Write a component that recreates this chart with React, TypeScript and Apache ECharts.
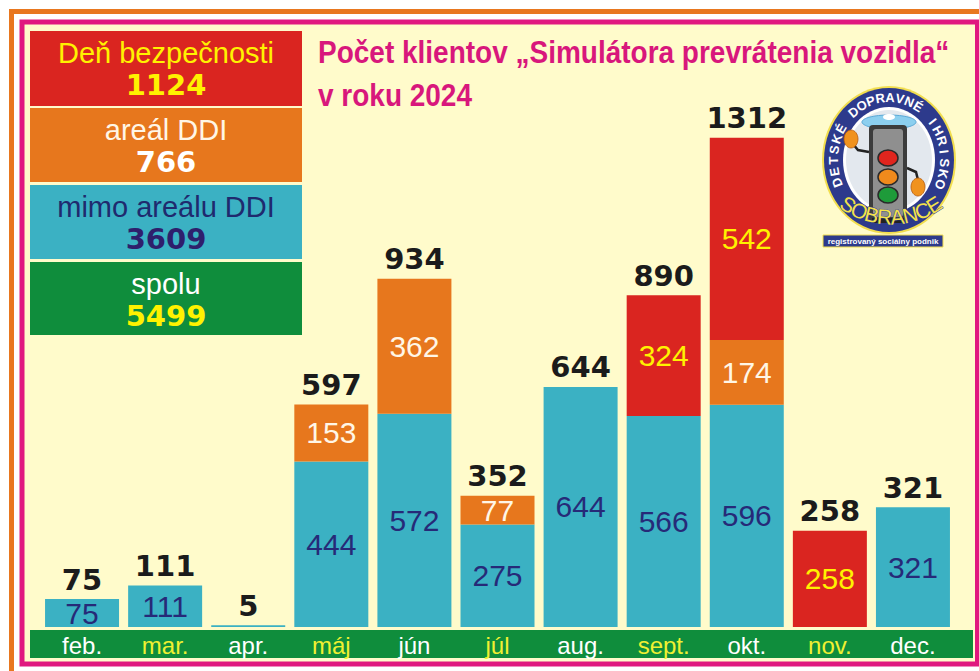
import React, { useEffect, useRef } from "react";
import * as echarts from "echarts";

// ---- data ----
const months = ["feb.", "mar.", "apr.", "máj", "jún", "júl", "aug.", "sept.", "okt.", "nov.", "dec."];
const mimoArealu = [75, 111, 5, 444, 572, 275, 644, 566, 596, 0, 321];
const arealDDI = [0, 0, 0, 153, 362, 77, 0, 0, 174, 0, 0];
const denBezpecnosti = [0, 0, 0, 0, 0, 0, 0, 324, 542, 258, 0];
const legendNames = ["Deň bezpečnosti", "areál DDI", "mimo areálu DDI", "spolu"];
const titleLines = ["Počet klientov „Simulátora prevrátenia vozidla“", "v roku 2024"];
const logoTopText = "DETSKÉ DOPRAVNÉ IHRISKO";
const logoBottomText = "SOBRANCE";
const logoBanner = "registrovaný sociálny podnik";

const sum = (a: number[]) => a.reduce((s, v) => s + v, 0);
const totals = months.map((_, i) => mimoArealu[i] + arealDDI[i] + denBezpecnosti[i]);
const legendValues = [sum(denBezpecnosti), sum(arealDDI), sum(mimoArealu), sum(totals)];

const C_RED = "#DA2520";
const C_ORANGE = "#E7771D";
const C_CYAN = "#3BB1C3";
const C_GREEN = "#0F8D3C";
const C_NAVY = "#262A78";
const C_YELLOW = "#FFF200";
const C_MAGENTA = "#D8177C";
const SANS = "'Liberation Sans', Arial, sans-serif";
const BOLD = "'DejaVu Sans', 'Liberation Sans', sans-serif";

const nz = (a: number[]) => a.map((v) => (v ? v : null));
const labelFmt = (p: any) => (p.value && p.value >= 50 ? String(p.value) : "");

function buildLegend(): any[] {
  const boxes = [
    { y: 31, h: 75, fill: C_RED, c1: C_YELLOW, c2: C_YELLOW },
    { y: 108, h: 74, fill: C_ORANGE, c1: "#FFF6E6", c2: "#FFFFFF" },
    { y: 185, h: 74, fill: C_CYAN, c1: "#1F2A6E", c2: "#2E1F6C" },
    { y: 262, h: 73, fill: C_GREEN, c1: "#FFFFFF", c2: C_YELLOW },
  ];
  const els: any[] = [];
  boxes.forEach((b, i) => {
    els.push({ type: "rect", z: 20, shape: { x: 30, y: b.y, width: 272, height: b.h }, style: { fill: b.fill } });
    els.push({
      type: "text", z: 21, x: 166, y: b.y + 22,
      style: { text: legendNames[i], fill: b.c1, font: `29px ${SANS}`, align: "center", verticalAlign: "middle" },
    });
    els.push({
      type: "text", z: 21, x: 166, y: b.y + 54,
      style: { text: String(legendValues[i]), fill: b.c2, font: `bold 29px ${BOLD}`, align: "center", verticalAlign: "middle" },
    });
  });
  return els;
}

function buildLogo(): any[] {
  const cx = 889, cy = 160, a = 65, b = 72;
  const els: any[] = [];
  els.push({ type: "ellipse", z: 20, shape: { cx, cy, rx: a + 2, ry: b + 2 }, style: { fill: "#F2DE4E" } });
  els.push({ type: "ellipse", z: 20, shape: { cx, cy, rx: a, ry: b }, style: { fill: "#2D3A8C" } });
  els.push({ type: "ellipse", z: 20, shape: { cx, cy, rx: a - 19, ry: b - 19 }, style: { fill: "#FFFFFF" } });
  els.push({ type: "ellipse", z: 20, shape: { cx, cy, rx: a - 22, ry: b - 22 }, style: { fill: "#E3E8EE" } });
  // cap
  els.push({ type: "ellipse", z: 21, shape: { cx: 889, cy: 122, rx: 27, ry: 7 }, style: { fill: "#8CCFEF", stroke: "#5AA8D6", lineWidth: 1 } });
  els.push({ type: "ellipse", z: 21, shape: { cx: 889, cy: 117, rx: 6, ry: 3 }, style: { fill: "#FFFFFF" } });
  // arms
  els.push({ type: "polyline", z: 21, shape: { points: [[869, 152], [858, 150], [853, 144]] }, style: { stroke: "#222", lineWidth: 2.5, fill: "none" } });
  els.push({ type: "polyline", z: 21, shape: { points: [[907, 168], [916, 172], [918, 180]] }, style: { stroke: "#222", lineWidth: 2.5, fill: "none" } });
  // body
  els.push({ type: "rect", z: 21, shape: { x: 869, y: 125, width: 38, height: 96, r: 4 }, style: { fill: "#3C3C3C" } });
  els.push({ type: "rect", z: 21, shape: { x: 873, y: 129, width: 30, height: 88, r: 3 }, style: { fill: "#8F8F8F" } });
  els.push({ type: "rect", z: 21, shape: { x: 872, y: 218, width: 32, height: 5 }, style: { fill: "#222" } });
  // hands
  els.push({ type: "ellipse", z: 22, shape: { cx: 851, cy: 139, rx: 7, ry: 9 }, style: { fill: "#F0921E", stroke: "#B45A10", lineWidth: 0.8 } });
  els.push({ type: "ellipse", z: 22, shape: { cx: 918, cy: 187, rx: 7, ry: 9 }, style: { fill: "#F0921E", stroke: "#B45A10", lineWidth: 0.8 } });
  // lights
  const lights = [["#E0251E", 158], ["#F08A1C", 177], ["#1E9B3A", 195]];
  lights.forEach(([c, y]) => {
    els.push({ type: "ellipse", z: 22, shape: { cx: 888, cy: y as number, rx: 10, ry: 8 }, style: { fill: c as string, stroke: "#2A2A2A", lineWidth: 1.5 } });
  });
  // top curved text
  const chars = logoTopText.split("");
  const start = (-111 * Math.PI) / 180, end = (113 * Math.PI) / 180;
  const at = a - 9.5, bt = b - 9.5;
  chars.forEach((ch, i) => {
    const t = start + ((end - start) * i) / (chars.length - 1);
    els.push({
      type: "text", z: 23, x: cx + at * Math.sin(t), y: cy - bt * Math.cos(t), rotation: -t,
      style: { text: ch, fill: "#FFFFFF", font: `bold 13px ${SANS}`, align: "center", verticalAlign: "middle" },
    });
  });
  // bottom curved text
  const bc = logoBottomText.split("");
  const bcx = 891, bcy = 136, R = 81;
  const s2 = (212 * Math.PI) / 180, e2 = (148 * Math.PI) / 180;
  bc.forEach((ch, i) => {
    const t = s2 + ((e2 - s2) * i) / (bc.length - 1);
    els.push({
      type: "text", z: 23, x: bcx + R * Math.sin(t), y: bcy - R * Math.cos(t), rotation: Math.PI - t,
      style: { text: ch, fill: "#F3E24A", stroke: "#2D3A8C", lineWidth: 0.8, font: `21px ${SANS}`, align: "center", verticalAlign: "middle" },
    });
  });
  // banner
  els.push({ type: "rect", z: 24, shape: { x: 823, y: 235, width: 120, height: 12 }, style: { fill: "#2D3A8C", stroke: "#F2DE4E", lineWidth: 1 } });
  els.push({
    type: "text", z: 25, x: 883, y: 241.5,
    style: { text: logoBanner, fill: "#FFFFFF", font: `bold 8px ${SANS}`, align: "center", verticalAlign: "middle" },
  });
  return els;
}

function buildOption(): any {
  const graphic: any[] = [
    { type: "rect", z: -10, shape: { x: 11.5, y: 11.5, width: 1000, height: 700 }, style: { fill: "#FFFFFF", stroke: "#E8771F", lineWidth: 5 } },
    { type: "rect", z: -9, shape: { x: 22, y: 22, width: 955.5, height: 642 }, style: { fill: "#FFFBCB", stroke: "#E0187F", lineWidth: 5 } },
    { type: "rect", z: -8, shape: { x: 30, y: 630, width: 943, height: 28 }, style: { fill: C_GREEN } },
    {
      type: "text", z: 20, x: 318, y: 52, scaleX: 0.875,
      style: { text: titleLines[0], fill: C_MAGENTA, font: `bold 32px ${SANS}`, align: "left", verticalAlign: "middle" },
    },
    {
      type: "text", z: 20, x: 318, y: 95, scaleX: 0.875,
      style: { text: titleLines[1], fill: C_MAGENTA, font: `bold 32px ${SANS}`, align: "left", verticalAlign: "middle" },
    },
    ...buildLegend(),
    ...buildLogo(),
  ];

  const segLabel = (color: string) => ({
    show: true, position: "inside", formatter: labelFmt, color, fontSize: 30, fontFamily: SANS,
  });

  return {
    animation: false,
    backgroundColor: "#FFFFFF",
    grid: { left: 40.5, right: 24.5, top: 105, bottom: 44, containLabel: false },
    xAxis: {
      type: "category",
      data: months,
      z: 10,
      axisLine: { show: false },
      axisTick: { show: false },
      axisLabel: {
        margin: 6,
        interval: 0,
        formatter: (v: string, i: number) => `{${i % 2 ? "y" : "w"}|${v}}`,
        rich: {
          w: { color: "#FFFFFF", fontSize: 24, fontFamily: SANS },
          y: { color: "#F0F032", fontSize: 24, fontFamily: SANS },
        },
      },
    },
    yAxis: { type: "value", min: 0, max: 1400, show: false, splitLine: { show: false } },
    graphic,
    series: [
      {
        name: legendNames[2], type: "bar", stack: "a", barWidth: 74, data: nz(mimoArealu),
        itemStyle: { color: C_CYAN }, label: segLabel(C_NAVY),
      },
      {
        name: legendNames[1], type: "bar", stack: "a", barWidth: 74, data: nz(arealDDI),
        itemStyle: { color: C_ORANGE }, label: segLabel("#FFF6E6"),
      },
      {
        name: legendNames[0], type: "bar", stack: "a", barWidth: 74, data: nz(denBezpecnosti),
        itemStyle: { color: C_RED }, label: segLabel(C_YELLOW),
      },
      {
        name: legendNames[3], type: "bar", barWidth: 74, barGap: "-100%", data: totals, silent: true,
        itemStyle: { color: "rgba(0,0,0,0)" },
        label: {
          show: true, position: "top", distance: 5, color: "#1B1B1B",
          fontSize: 29, fontWeight: "bold", fontFamily: BOLD,
        },
      },
    ],
  };
}

export default function App() {
  const ref = useRef<HTMLDivElement>(null);
  useEffect(() => {
    if (!ref.current) return;
    const chart = echarts.init(ref.current, null, { renderer: "svg" });
    chart.setOption(buildOption());
    return () => chart.dispose();
  }, []);
  return (
    <div
      ref={ref}
      style={{ position: "fixed", left: 0, top: 0, width: 979, height: 671, background: "#FFFFFF" }}
    />
  );
}
